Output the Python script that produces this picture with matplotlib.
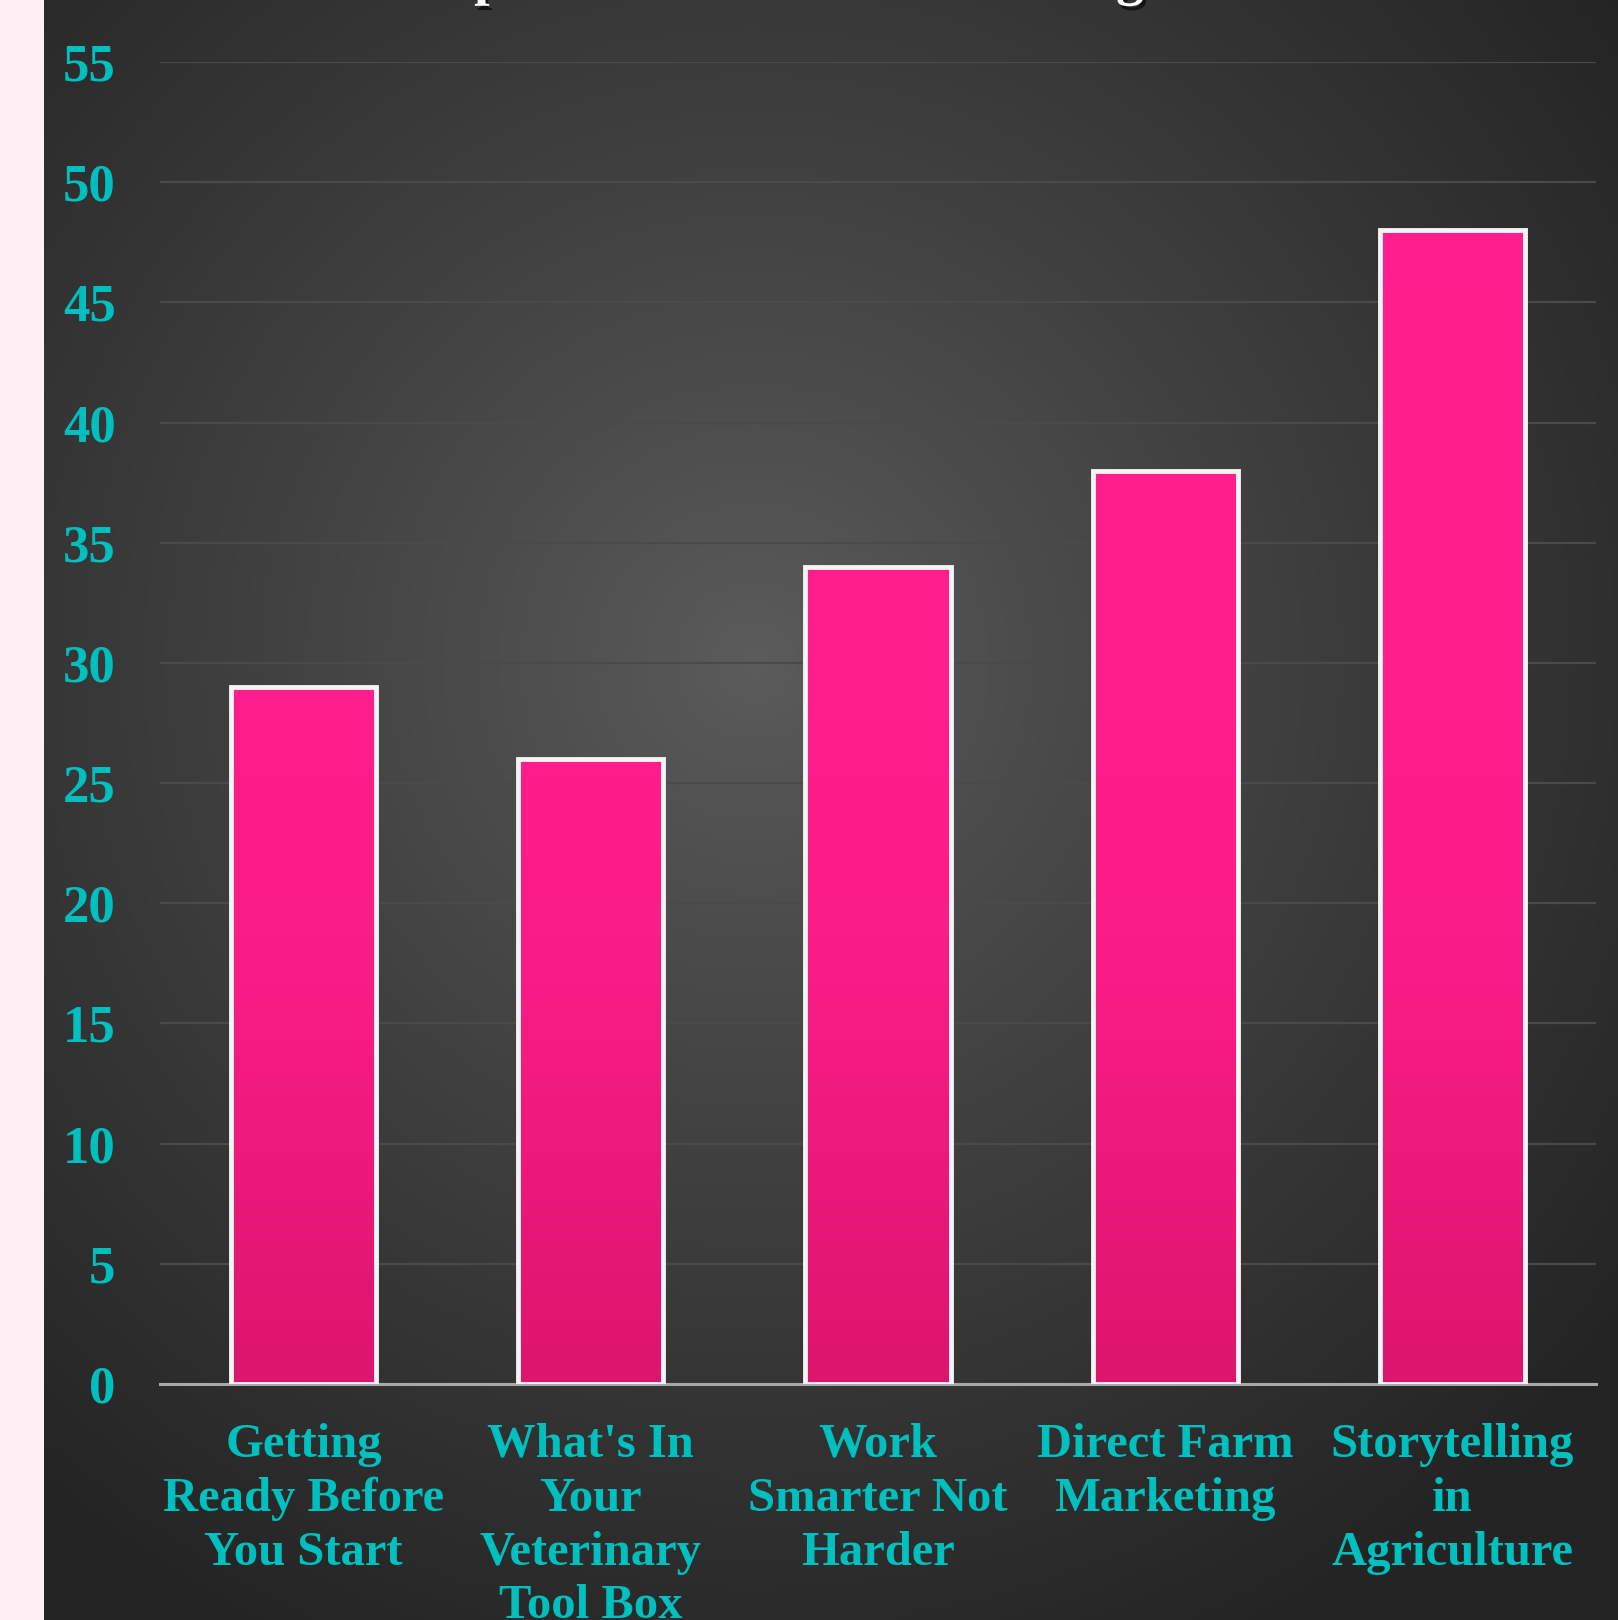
import numpy as np
import matplotlib.pyplot as plt
import matplotlib.patheffects as pe
from matplotlib.colors import LinearSegmentedColormap


categories = ["Getting\nReady Before\nYou Start",
              "What's In\nYour\nVeterinary\nTool Box",
              "Work\nSmarter Not\nHarder",
              "Direct Farm\nMarketing",
              "Storytelling\nin\nAgriculture"]
values = [29, 26, 34, 38, 48]
y_ticks = [0, 5, 10, 15, 20, 25, 30, 35, 40, 45, 50, 55]
title = "Workshop Attendance at the Meeting"

W, H = 1618, 1620
teal = '#00BFBF'
serif = 'Liberation Serif'

fig = plt.figure(figsize=(W / 100, H / 100), dpi=100, facecolor='#fff0f5')

# dark panel with radial glow
panel_left = 44 / W
bg = fig.add_axes([panel_left, 0, 1 - panel_left, 1], zorder=-5)
nx, ny = 500, 500
gx, gy = np.meshgrid(np.linspace(0, 1, nx), np.linspace(0, 1, ny))
pw, ph = W - 44, H
cx, cy = (754 - 44) / pw, 661 / ph
d = np.sqrt(((gx - cx) * pw) ** 2 + ((gy - cy) * ph) ** 2) / 1100
d = np.clip(d, 0, 1)
shade = 92 - (92 - 36) * d ** 0.9
img = np.dstack([shade, shade, shade]) / 255
bg.imshow(img, extent=[0, 1, 1, 0], aspect='auto')
bg.set_xlim(0, 1)
bg.set_ylim(1, 0)
bg.axis('off')

# main chart
ax = fig.add_axes([160 / W, 1 - 1384 / H, (1596 - 160) / W, (1384 - 62) / H])
ax.patch.set_alpha(0)

x = np.arange(len(values))
bar_w = 0.505
pink = LinearSegmentedColormap.from_list(
    'pink', [(0, '#DC156D'), (0.3, '#F91C86'), (0.5, '#FF1E8B'), (1, '#FF1F8E')])
grad = np.linspace(0, 1, 256).reshape(-1, 1)

bars = ax.bar(x, values, width=bar_w, color='none', edgecolor='#f4f4f4',
              linewidth=3.5, zorder=4)
for b in bars:
    x0 = b.get_x()
    im = ax.imshow(grad, cmap=pink, origin='lower', aspect='auto',
                   extent=[x0, x0 + bar_w, 0, 55], zorder=3)
    im.set_clip_path(b)

ax.set_xlim(-0.5, len(values) - 0.5)
ax.set_ylim(0, 55)
ax.set_yticks(y_ticks)
ax.set_xticks(x)
ax.set_xticklabels(categories, fontfamily=serif, fontweight='bold',
                   fontsize=35, color=teal, linespacing=1.29)
ax.set_yticklabels([str(t) for t in y_ticks], fontfamily=serif,
                   fontweight='bold', fontsize=38, color=teal)
ax.tick_params(axis='y', length=0, pad=32)
ax.tick_params(axis='x', length=0, pad=28)
ax.grid(axis='y', color='#4a4a4a', linewidth=1.6, zorder=1)
ax.set_axisbelow(True)
for s in ['top', 'right', 'left']:
    ax.spines[s].set_visible(False)
ax.spines['bottom'].set_color('#a8a8a8')
ax.spines['bottom'].set_linewidth(2.2)
ax.spines['bottom'].set_zorder(2)

# title sits mostly above the canvas, only the descenders show
fig.text(258 / W, 1 + 6 / H, title, ha='left', va='baseline',
         fontfamily=serif, fontweight='bold', fontsize=40, color='white',
         path_effects=[pe.withSimplePatchShadow(offset=(2, -3),
                                                shadow_rgbFace='black',
                                                alpha=0.6)])

fig.savefig('out.png', dpi=100, facecolor=fig.get_facecolor())
